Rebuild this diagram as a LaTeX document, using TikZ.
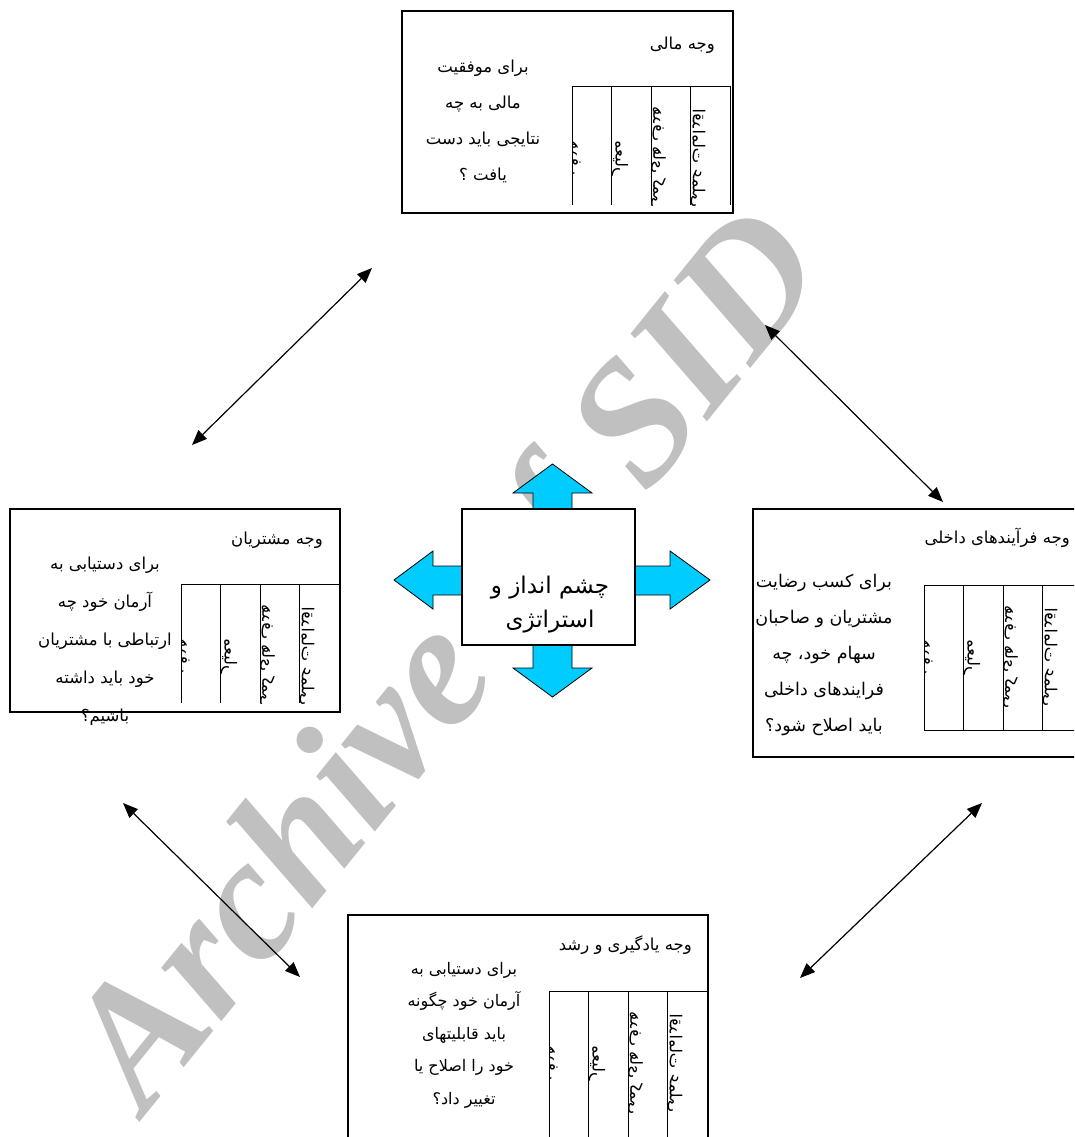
\documentclass[tikz,border=0pt]{standalone}
\usepackage{fontspec}
\setmainfont{DejaVu Sans}
\newfontfamily\arabicfont[Script=Arabic]{DejaVu Sans}
\newfontfamily\wmfont{Liberation Serif}
\TeXXeTstate=1
\usetikzlibrary{arrows.meta}
\newcommand\artxt[1]{{\arabicfont\beginR #1\endR}}
\definecolor{arrowcyan}{RGB}{0,204,255}
\definecolor{wmgray}{RGB}{192,192,192}
\newcommand\bsctable[4]{%
  \pgfmathsetmacro\xa{#2}%
  \pgfmathsetmacro\xb{#2+39.5}%
  \pgfmathsetmacro\xc{#2+79}%
  \pgfmathsetmacro\xd{#2+118.5}%
  \pgfmathsetmacro\xe{#2+158}%
  \pgfmathsetmacro\xs{#2+3}%
  \pgfmathsetmacro\yc{#3+72}%
  \draw[gridline] (\xa,#3) -- (\xe,#3);
  \foreach \xx in {\xa,\xb,\xc,\xd,\xe}{\draw[gridline] (\xx,#3) -- (\xx,#4);}
  \begin{scope}\clip (\xa,#3) rectangle (\xb,#4);
    \node[coltext,anchor=center] (#1c1) at (\xs,\yc) {\artxt{هدف}};\end{scope}
  \begin{scope}\clip (\xb,#3) rectangle (\xc,#4);
    \node[coltext,anchor=south] (#1c2) at (\xb,\yc) {\artxt{معیار}};\end{scope}
  \begin{scope}\clip (\xc,#3) rectangle (\xd,#4);
    \node[coltext,anchor=south] (#1c3) at (\xc,\yc) {\artxt{هدف های کمی}};\end{scope}
  \begin{scope}\clip (\xd,#3) rectangle (\xe,#4);
    \node[coltext,anchor=south] (#1c4) at (\xd,\yc) {\artxt{اقدامات عملی}};\end{scope}
}
\begin{document}
\begin{tikzpicture}[x=1pt,y=-1pt,
  panel/.style={draw=black,line width=1.5pt,fill=white,inner sep=0pt,rectangle},
  titletxt/.style={inner sep=0pt,anchor=east,font=\fontsize{16.5}{18}\selectfont},
  question/.style={inner sep=0pt,align=center},
  coltext/.style={inner sep=0pt,font=\fontsize{16.5}{18}\selectfont,cm={0,1,1,0,(0,0)}},
  gridline/.style={draw=black,line width=0.8pt},
  bigarrow/.style={draw=black,line width=0.8pt,fill=arrowcyan},
  link/.style={draw=black,line width=1.2pt,{Triangle[length=15pt,width=12pt]}-{Triangle[length=15pt,width=12pt]}},
  wm/.style={text=wmgray,inner sep=0pt,rotate=51,font=\wmfont\bfseries\itshape\fontsize{175}{175}\selectfont}]
\useasboundingbox (0,0) rectangle (1074,1137);
\clip (0,0) rectangle (1074,1137);
\fill[white] (0,0) rectangle (1074,1137);

% watermark
\node[wm] (wmark) at (455,665) {Archive of SID};

% four-way arrow behind the vision box
\draw[bigarrow] (533,520) -- (533,493) -- (513,493) -- (552.5,464) -- (592,493) -- (572,493) -- (572,520) -- cycle;
\draw[bigarrow] (533,630) -- (533,668) -- (513,668) -- (552.5,697) -- (592,668) -- (572,668) -- (572,630) -- cycle;
\draw[bigarrow] (470,566) -- (433,566) -- (433,551) -- (394,580) -- (433,609) -- (433,595) -- (470,595) -- cycle;
\draw[bigarrow] (625,566) -- (670,566) -- (670,551) -- (710,580) -- (670,609) -- (670,595) -- (625,595) -- cycle;

% panels
\node[panel,minimum width=331pt,minimum height=202pt] (fin) at (567.5,112) {};
\node[panel,minimum width=330pt,minimum height=203pt] (cust) at (175,610.5) {};
\node[panel,minimum width=334pt,minimum height=248pt] (proc) at (920,633) {};
\node[panel,minimum width=360pt,minimum height=235pt] (learn) at (528,1032.5) {};
\node[panel,minimum width=173pt,minimum height=136pt] (vision) at (548.5,577) {};

% titles
\node[titletxt] (t1) at (715,45) {\artxt{وجه مالی}};
\node[titletxt] (t2) at (323,540) {\artxt{وجه مشتریان}};
\node[titletxt] (t3) at (1070,538) {\artxt{وجه فرآیندهای داخلی}};
\node[titletxt] (t4) at (692,945) {\artxt{وجه یادگیری و رشد}};

% questions
\node[question,font=\fontsize{16.5}{36}\selectfont] (q1) at (483,121)
  {\artxt{برای موفقیت}\\\artxt{مالی به چه}\\\artxt{نتایجی باید دست}\\\artxt{یافت ؟}};
\node[question,font=\fontsize{16.5}{38}\selectfont] (q2) at (105,641)
  {\artxt{برای دستیابی به}\\\artxt{آرمان خود چه}\\\artxt{ارتباطی با مشتریان}\\\artxt{خود باید داشته}\\\artxt{باشیم؟}};
\node[question,font=\fontsize{17.5}{36}\selectfont] (q3) at (824,655)
  {\artxt{برای کسب رضایت}\\\artxt{مشتریان و صاحبان}\\\artxt{سهام خود، چه}\\\artxt{فرایندهای داخلی}\\\artxt{باید اصلاح شود؟}};
\node[question,font=\fontsize{16}{32.5}\selectfont] (q4) at (464,1035)
  {\artxt{برای دستیابی به}\\\artxt{آرمان خود چگونه}\\\artxt{باید قابلیتهای}\\\artxt{خود را اصلاح یا}\\\artxt{تغییر داد؟}};

% vision text
\node[question,font=\fontsize{23}{34}\selectfont] (vtext) at (550,605)
  {\artxt{چشم انداز و}\\\artxt{استراتژی}};

% tables
\bsctable{fin}{572}{86}{205}
\bsctable{cust}{181}{584}{703}
\bsctable{proc}{924}{585}{730}
\draw[gridline] (924,730) -- (1082,730);
\bsctable{learn}{549}{991}{1140}

% connectors
\coordinate (a1) at (192,445); \coordinate (b1) at (372,268);
\coordinate (a2) at (765,325); \coordinate (b2) at (943,502);
\coordinate (a3) at (123,803); \coordinate (b3) at (300,977);
\coordinate (a4) at (982,803); \coordinate (b4) at (800,978);
\draw[link] (a1) -- (b1);
\draw[link] (a2) -- (b2);
\draw[link] (a3) -- (b3);
\draw[link] (a4) -- (b4);
\end{tikzpicture}
\end{document}
